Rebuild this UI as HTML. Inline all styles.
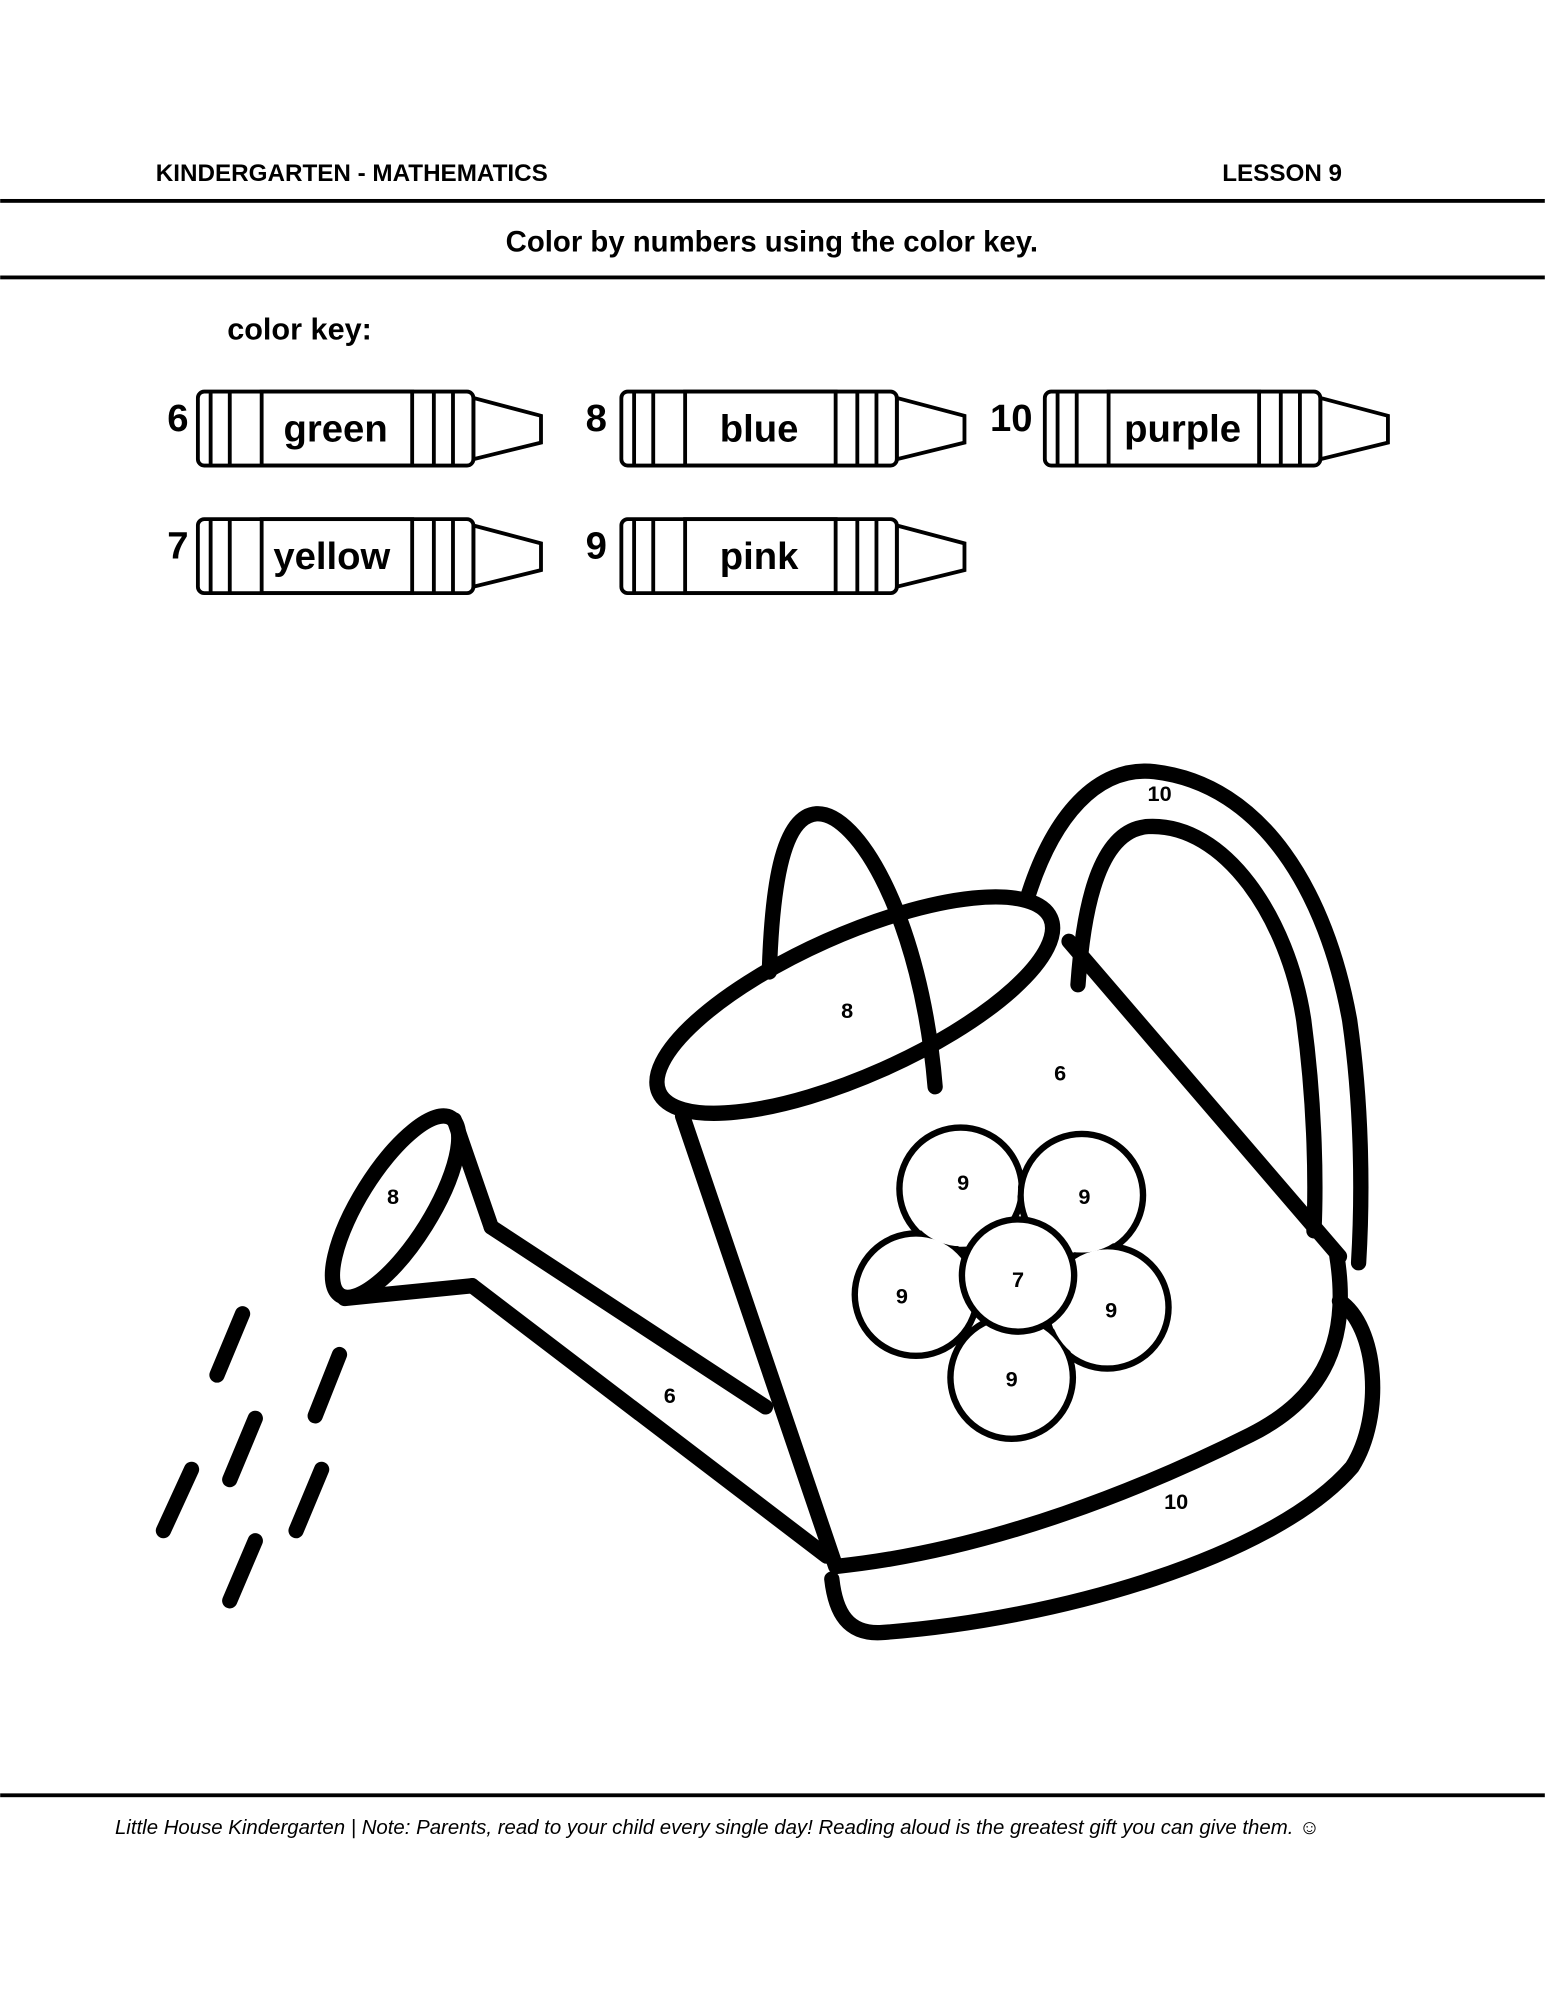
<!DOCTYPE html>
<html><head><meta charset="utf-8"><style>
html,body{margin:0;padding:0;background:#fff}
svg{display:block}
text{font-family:"Liberation Sans",sans-serif;font-weight:bold;fill:#000}
text.ft{font-weight:normal;font-style:italic}
</style></head><body>
<svg width="1545" height="2000" viewBox="0 0 1211 1568" xmlns="http://www.w3.org/2000/svg">
<text x="122" y="142" font-size="19">KINDERGARTEN - MATHEMATICS</text>
<text x="1052" y="142" font-size="19" text-anchor="end">LESSON 9</text>
<rect x="0" y="156" width="1211" height="3"/>
<text x="605" y="197" font-size="23" text-anchor="middle">Color by numbers using the color key.</text>
<rect x="0" y="216" width="1211" height="3"/>
<text x="178" y="266" font-size="24">color key:</text>

<defs>
<g id="cr" fill="none" stroke="#000" stroke-width="3">
<rect x="155" y="307" width="216" height="58" rx="5" fill="#fff"/>
<line x1="165" y1="307" x2="165" y2="365"/><line x1="180" y1="307" x2="180" y2="365"/>
<rect x="205" y="307" width="118" height="58"/>
<line x1="340" y1="307" x2="340" y2="365"/><line x1="355" y1="307" x2="355" y2="365"/>
<path d="M371,312 L424,326 L424,347 L371,360 Z"/>
</g>
</defs>
<use href="#cr"/><use href="#cr" x="332"/><use href="#cr" x="664"/>
<use href="#cr" y="100"/><use href="#cr" x="332" y="100"/>
<g font-size="30">
<text x="131" y="338">6</text><text x="263" y="346" text-anchor="middle">green</text>
<text x="459" y="338">8</text><text x="595" y="346" text-anchor="middle">blue</text>
<text x="776" y="338">10</text><text x="927" y="346" text-anchor="middle">purple</text>
<text x="131" y="438">7</text><text x="260" y="446" text-anchor="middle">yellow</text>
<text x="459" y="438">9</text><text x="595" y="446" text-anchor="middle">pink</text>
</g>

<g fill="none" stroke="#000" stroke-width="12" stroke-linecap="round" stroke-linejoin="round">
<path d="M805,705 C825,640 860,600 905,605 C990,615 1040,700 1058,800 C1068,870 1068,940 1065,990"/>
<path d="M845,772 C850,700 865,650 900,648 C960,645 1010,720 1022,800 C1030,860 1032,920 1030,965"/>
<path d="M535,875 L655,1228"/>
<path d="M838,738 L1050,985"/>
<path d="M1048,985 C1060,1060 1030,1100 980,1125 C900,1165 780,1215 656,1228"/>
<path d="M1050,1020 C1080,1040 1085,1110 1060,1150 C1000,1220 830,1270 690,1280 C665,1281 655,1265 652,1238"/>
<ellipse cx="670" cy="788" rx="168" ry="55" transform="rotate(-24 670 788)" fill="#fff"/>
<path d="M603,762 C605,700 612,640 640,638 C672,636 722,720 733,852"/>
<path d="M385,962 L600,1103"/>
<path d="M370,1008 L648,1220"/>
<path d="M356,878 L385,962"/>
<path d="M270,1018 L370,1008"/>
<ellipse cx="310" cy="946" rx="82" ry="28" transform="rotate(-58 310 946)"/>
<path d="M170,1078 L190,1030"/><path d="M180,1160 L200,1112"/><path d="M247,1110 L266,1062"/>
<path d="M128,1200 L150,1152"/><path d="M232,1200 L252,1152"/><path d="M180,1255 L200,1208"/>
</g>
<g fill="#fff" stroke="#000" stroke-width="5">
<circle cx="753" cy="932" r="48"/><circle cx="848" cy="937" r="48"/>
<circle cx="718" cy="1015" r="48"/><circle cx="868" cy="1025" r="48"/>
<circle cx="793" cy="1080" r="48"/>
</g>
<g fill="#fff">
<circle cx="753" cy="932" r="45"/><circle cx="848" cy="937" r="45"/>
<circle cx="718" cy="1015" r="45"/><circle cx="868" cy="1025" r="45"/>
<circle cx="793" cy="1080" r="45"/>
</g>
<circle cx="798" cy="1000" r="44" fill="#fff" stroke="#000" stroke-width="5"/>
<g font-size="17" text-anchor="middle">
<text x="909" y="628">10</text><text x="664" y="798">8</text><text x="831" y="847">6</text>
<text x="755" y="933">9</text><text x="850" y="944">9</text><text x="707" y="1022">9</text>
<text x="871" y="1033">9</text><text x="793" y="1087">9</text><text x="798" y="1009">7</text>
<text x="308" y="944">8</text><text x="525" y="1100">6</text><text x="922" y="1183">10</text>
</g>
<rect x="0" y="1406" width="1211" height="3"/>
<text class="ft" x="90" y="1438" font-size="16">Little House Kindergarten | Note: Parents, read to your child every single day! Reading aloud is the greatest gift you can give them. ☺</text>
</svg>
</body></html>
